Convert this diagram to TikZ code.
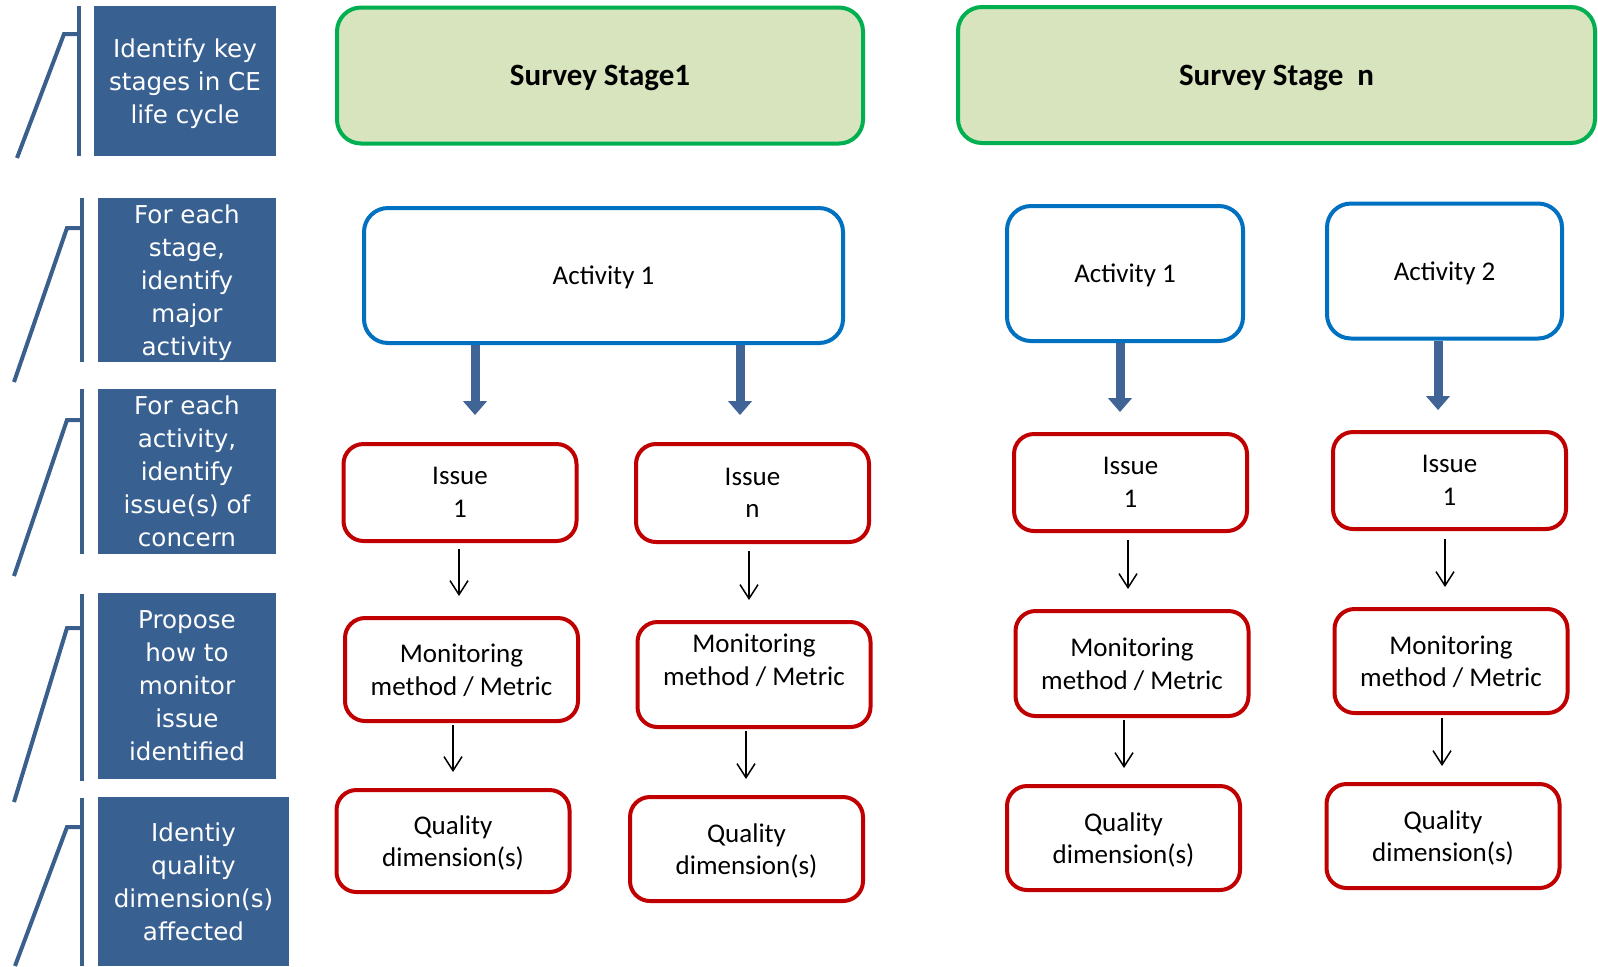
\documentclass[tikz,border=0pt]{standalone}
\usepackage{fontspec}
\setmainfont{Carlito}
\newfontfamily\panelfont{DejaVu Sans}
\usetikzlibrary{arrows.meta}
\definecolor{cepanel}{RGB}{56,96,145}
\definecolor{celine}{RGB}{58,95,140}
\definecolor{cefat}{RGB}{64,100,150}
\definecolor{cegreen}{RGB}{0,176,80}
\definecolor{cegreenfill}{RGB}{215,228,189}
\definecolor{ceblue}{RGB}{0,112,192}
\definecolor{cered}{RGB}{192,0,0}
\newcommand{\liftup}[2]{\raisebox{#1}[\height][\depth]{\begin{tabular}{@{}c@{}}#2\end{tabular}}}

\begin{document}
\begin{tikzpicture}[x=0.5pt,y=-0.5pt,
  panel/.style={fill=cepanel,text=white,inner sep=0pt,align=center,text depth=0pt,
    font=\panelfont\fontsize{12.3}{16.5}\selectfont},
  bracket/.style={celine,line width=2pt},
  stagebox/.style={draw=cegreen,fill=cegreenfill,line width=2pt,rounded corners=12pt,text depth=0pt,
    minimum height=68pt,font=\bfseries\fontsize{15.5}{18}\selectfont},
  actbox/.style={draw=ceblue,line width=2pt,rounded corners=12pt,minimum height=67.5pt,text depth=0pt,
    font=\fontsize{13.5}{16.3}\selectfont},
  redbox/.style={draw=cered,line width=2pt,rounded corners=10pt,minimum width=116.5pt,text depth=0pt,
    align=center,inner sep=0pt,font=\fontsize{13.5}{16.3}\selectfont},
  fat/.style={cefat,line width=4.5pt,-{Triangle[width=12pt,length=7pt,line width=0.5pt]}},
  flowarrow/.style={black,line width=0.75pt,-{Straight Barb[length=7pt,width=9pt]}}]
  \useasboundingbox (0,0) rectangle (1598,966);

  % left column
  \node[panel,minimum width=91pt,minimum height=75pt] (p1) at (185,81) {Identify key\\stages in CE\\life cycle};
  \node[panel,minimum width=89pt,minimum height=82pt] (p2) at (187,280) {For each\\stage,\\identify\\major\\activity};
  \node[panel,minimum width=89pt,minimum height=82.5pt] (p3) at (187,471.5) {For each\\activity,\\identify\\issue(s) of\\concern};
  \node[panel,minimum width=89pt,minimum height=93pt] (p4) at (187,686) {Propose\\how to\\monitor\\issue\\identified};
  \node[panel,minimum width=95.5pt,minimum height=84.5pt] (p5) at (193.5,881.5) {Identiy\\quality\\dimension(s)\\affected};
  \foreach \vx/\ya/\yb/\yt/\ex/\ey in {79/6/156/34/17/158, 82/198/362/228/14/382,
      82/389/554/420/14/576, 82/594/781/628/14/802, 82/798/966/827/15/966}{
    \draw[bracket] (\vx,\ya) -- (\vx,\yb);
    \draw[bracket] (\vx,\yt) -- (\vx-15,\yt) -- (\ex,\ey);
  }

  % stages
  \node[stagebox,minimum width=263pt] (s1) at (600,75.5) {Survey Stage1};
  \node[stagebox,minimum width=318.5pt] (sn) at (1276.5,75) {Survey Stage~~n};

  % activities
  \node[actbox,minimum width=239.5pt] (a11) at (603.5,275.5) {Activity 1};
  \node[actbox,minimum width=118pt] (an1) at (1125,273.5) {Activity 1};
  \node[actbox,minimum width=117.5pt] (an2) at (1444.5,271) {Activity 2};

  % issues
  \node[redbox,minimum height=48.5pt] (i11) at (460,492.5) {Issue\\1};
  \node[redbox,minimum height=49pt] (i1n) at (752.5,493) {Issue\\n};
  \node[redbox,minimum height=48.5pt] (in1) at (1130.5,482.5) {Issue\\1};
  \node[redbox,minimum height=48.5pt] (in2) at (1449.5,480.5) {Issue\\1};

  % monitoring
  \node[redbox,minimum height=51.5pt] (m11) at (461.5,669.5) {Monitoring\\method / Metric};
  \node[redbox,minimum height=52.5pt] (m1n) at (754,674.5) {\liftup{12.5pt}{Monitoring\\method / Metric}};
  \node[redbox,minimum height=52.5pt] (mn1) at (1132,663.5) {Monitoring\\method / Metric};
  \node[redbox,minimum height=52pt] (mn2) at (1451,661) {Monitoring\\method / Metric};

  % quality
  \node[redbox,minimum height=51pt] (q11) at (453,841) {Quality\\dimension(s)};
  \node[redbox,minimum height=52pt] (q1n) at (746.5,849) {Quality\\dimension(s)};
  \node[redbox,minimum height=52pt] (qn1) at (1123.5,838) {Quality\\dimension(s)};
  \node[redbox,minimum height=52pt] (qn2) at (1443,836) {Quality\\dimension(s)};

  % arrows
  \coordinate (t11) at (475,415);
  \coordinate (t1n) at (740,415);
  \coordinate (tn1) at (1120,412);
  \coordinate (tn2) at (1438,410);
  \draw[fat] (a11.south -| t11) -- (t11);
  \draw[fat] (a11.south -| t1n) -- (t1n);
  \draw[fat] (an1.south -| tn1) -- (tn1);
  \draw[fat] (an2.south -| tn2) -- (tn2);
  \foreach \a/\b/\dx/\sa/\sb in {i11/m11/-0.5/3/10, i1n/m1n/-1.75/3.5/10, in1/mn1/-1.25/3.5/10,
      in2/mn2/-2.25/4/10, m11/q11/-4.25/1/8, m1n/q1n/-4/1/8, mn1/qn1/-4/1/8, mn2/qn2/-4.5/1.5/8}
    \draw[flowarrow,shorten <=\sa pt,shorten >=\sb pt] ([xshift=\dx pt]\a.south) -- ([xshift=\dx pt]\a.south |- \b.north);
\end{tikzpicture}
\end{document}
